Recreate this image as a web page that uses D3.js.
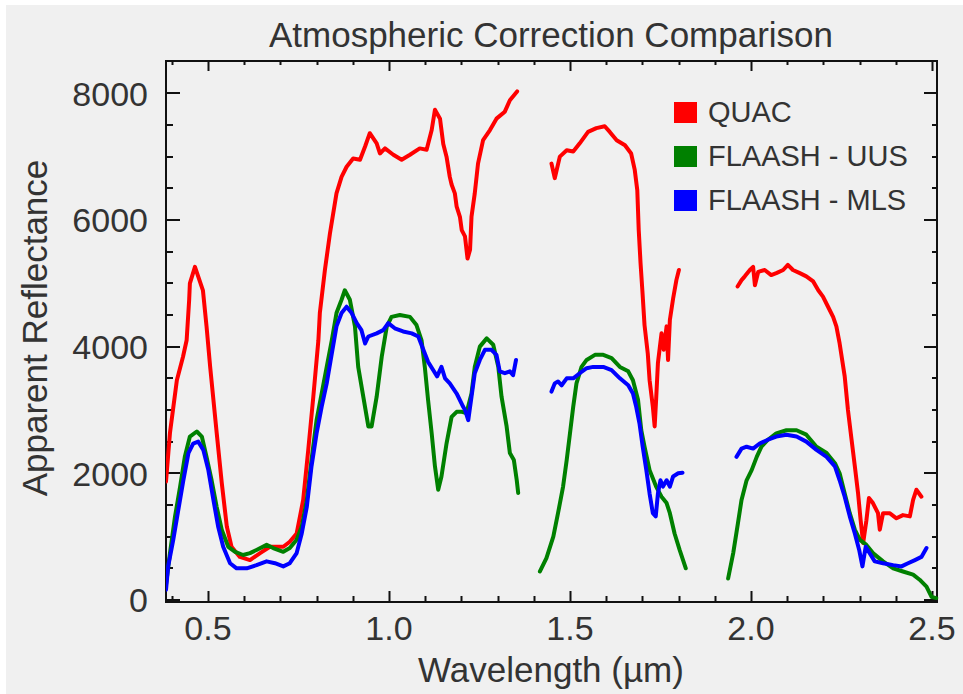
<!DOCTYPE html>
<html>
<head>
<meta charset="utf-8">
<script src="https://cdn.jsdelivr.net/npm/d3@7"></script>
<style>
  html, body { margin: 0; padding: 0; background: #ffffff; }
  svg { display: block; }
  text { font-family: "Liberation Sans", Arial, sans-serif; fill: #333333; }
</style>
</head>
<body>
<div id="chart"></div>
<script>
// 数据：波长 (µm) 与表观反射率，每条曲线按水汽吸收带分段
const quacSeg1 = [[0.384,1870],[0.395,2640],[0.414,3470],[0.431,3840],[0.441,4100],[0.448,4740],[0.450,5000],[0.464,5260],[0.486,4890],[0.496,4320],[0.506,3680],[0.524,2640],[0.538,1850],[0.552,1160],[0.565,840],[0.588,680],[0.616,630],[0.644,740],[0.671,840],[0.708,840],[0.726,920],[0.745,1050],[0.763,1580],[0.777,2370],[0.791,3210],[0.805,4100],[0.809,4530],[0.823,5210],[0.837,5790],[0.855,6420],[0.869,6680],[0.883,6840],[0.901,6970],[0.920,6950],[0.934,7160],[0.947,7370],[0.966,7210],[0.975,7050],[0.989,7130],[1.012,7030],[1.035,6950],[1.058,7030],[1.085,7130],[1.104,7110],[1.118,7420],[1.127,7740],[1.141,7600],[1.150,7200],[1.159,7000],[1.168,6680],[1.173,6560],[1.182,6420],[1.187,6210],[1.196,6050],[1.201,5840],[1.210,5740],[1.217,5390],[1.224,5530],[1.228,6050],[1.237,6420],[1.246,6890],[1.260,7260],[1.279,7420],[1.297,7600],[1.320,7710],[1.334,7890],[1.354,8030]];
const quacSeg2 = [[1.449,6890],[1.458,6660],[1.472,7000],[1.491,7100],[1.509,7080],[1.527,7210],[1.550,7390],[1.573,7450],[1.596,7480],[1.610,7390],[1.629,7260],[1.652,7180],[1.669,7050],[1.679,6790],[1.686,6470],[1.690,5840],[1.695,5320],[1.700,4890],[1.706,4340],[1.715,3890],[1.720,3470],[1.729,3050],[1.734,2740],[1.738,3160],[1.743,3740],[1.753,4210],[1.759,3950],[1.767,4320],[1.771,3790],[1.776,4420],[1.785,4760],[1.794,5050],[1.801,5210]];
const quacSeg3 = [[1.963,4950],[1.974,5050],[1.983,5110],[1.997,5210],[2.006,5260],[2.011,4970],[2.020,5180],[2.038,5210],[2.056,5130],[2.070,5160],[2.089,5210],[2.102,5290],[2.116,5210],[2.135,5160],[2.153,5110],[2.172,5030],[2.186,4890],[2.199,4790],[2.213,4630],[2.227,4470],[2.236,4320],[2.245,4050],[2.259,3530],[2.268,3000],[2.278,2530],[2.287,2110],[2.296,1680],[2.303,1260],[2.310,900],[2.319,1260],[2.326,1610],[2.337,1530],[2.351,1370],[2.356,1110],[2.365,1370],[2.383,1370],[2.402,1290],[2.420,1340],[2.439,1320],[2.448,1580],[2.457,1740],[2.471,1630]];

const uusSeg1 = [[0.384,240],[0.395,740],[0.409,1320],[0.423,1790],[0.436,2260],[0.450,2580],[0.469,2660],[0.483,2580],[0.496,2260],[0.510,1890],[0.524,1470],[0.538,1110],[0.556,840],[0.575,760],[0.597,710],[0.616,740],[0.634,790],[0.662,870],[0.680,820],[0.708,760],[0.726,820],[0.745,950],[0.759,1160],[0.773,1580],[0.786,2210],[0.800,2840],[0.814,3260],[0.828,3680],[0.842,4100],[0.855,4530],[0.869,4740],[0.878,4890],[0.892,4740],[0.906,4320],[0.915,3680],[0.929,3210],[0.943,2740],[0.952,2740],[0.966,3210],[0.980,3840],[0.994,4320],[1.007,4470],[1.030,4500],[1.058,4470],[1.076,4340],[1.090,4100],[1.099,3680],[1.108,3160],[1.118,2630],[1.127,2110],[1.136,1740],[1.145,1950],[1.159,2470],[1.173,2890],[1.187,2970],[1.201,2970],[1.214,2950],[1.228,3260],[1.237,3680],[1.251,4000],[1.270,4130],[1.288,4030],[1.302,3680],[1.311,3210],[1.325,2740],[1.334,2320],[1.345,2210],[1.353,1890],[1.357,1690]];
const uusSeg2 = [[1.417,450],[1.435,660],[1.454,1000],[1.467,1370],[1.481,1790],[1.491,2210],[1.500,2630],[1.509,3050],[1.518,3420],[1.532,3680],[1.546,3790],[1.569,3870],[1.592,3870],[1.615,3820],[1.638,3680],[1.661,3610],[1.674,3470],[1.688,3160],[1.697,2680],[1.706,2420],[1.720,2050],[1.738,1790],[1.753,1630],[1.767,1530],[1.776,1370],[1.789,1050],[1.803,790],[1.820,500]];
const uusSeg3 = [[1.937,340],[1.951,740],[1.964,1210],[1.974,1580],[1.988,1890],[2.002,2050],[2.016,2260],[2.029,2420],[2.047,2530],[2.070,2630],[2.098,2680],[2.126,2680],[2.153,2610],[2.181,2420],[2.209,2320],[2.232,2160],[2.245,2000],[2.259,1680],[2.273,1370],[2.287,1110],[2.301,950],[2.319,870],[2.337,740],[2.365,610],[2.393,500],[2.420,450],[2.448,400],[2.466,320],[2.485,210],[2.499,50],[2.512,30]];

const mlsSeg1 = [[0.384,160],[0.390,530],[0.404,950],[0.418,1420],[0.432,1890],[0.446,2320],[0.459,2470],[0.473,2500],[0.487,2370],[0.501,2050],[0.515,1580],[0.528,1160],[0.542,840],[0.561,580],[0.579,500],[0.607,500],[0.634,550],[0.662,610],[0.685,580],[0.708,530],[0.726,580],[0.745,740],[0.759,1050],[0.773,1470],[0.786,2110],[0.800,2630],[0.814,3050],[0.828,3420],[0.842,3890],[0.855,4320],[0.869,4530],[0.883,4630],[0.897,4530],[0.911,4370],[0.924,4260],[0.934,4050],[0.943,4160],[0.966,4210],[0.984,4260],[0.998,4370],[1.016,4290],[1.039,4240],[1.063,4210],[1.081,4160],[1.095,3950],[1.108,3760],[1.122,3630],[1.133,3530],[1.145,3680],[1.155,3500],[1.168,3420],[1.187,3260],[1.205,3050],[1.210,3000],[1.219,2840],[1.228,3210],[1.237,3580],[1.251,3790],[1.265,3950],[1.283,3950],[1.297,3870],[1.306,3610],[1.320,3580],[1.334,3610],[1.343,3550],[1.351,3790]];
const mlsSeg2 = [[1.449,3290],[1.458,3420],[1.467,3450],[1.477,3390],[1.491,3500],[1.509,3500],[1.527,3580],[1.546,3660],[1.564,3680],[1.592,3680],[1.615,3630],[1.638,3500],[1.661,3390],[1.674,3260],[1.683,3050],[1.692,2790],[1.701,2420],[1.711,2050],[1.720,1680],[1.729,1370],[1.737,1320],[1.743,1680],[1.750,1890],[1.757,1790],[1.767,1890],[1.776,1790],[1.785,1950],[1.799,2000],[1.811,2010]];
const mlsSeg3 = [[1.960,2260],[1.974,2390],[1.988,2420],[2.006,2390],[2.024,2470],[2.047,2530],[2.070,2580],[2.098,2610],[2.126,2580],[2.153,2500],[2.181,2370],[2.209,2260],[2.232,2110],[2.245,1890],[2.259,1630],[2.273,1320],[2.287,1050],[2.299,790],[2.308,530],[2.317,840],[2.328,740],[2.342,610],[2.365,580],[2.393,550],[2.416,530],[2.434,580],[2.453,630],[2.471,680],[2.485,820]];

const seriesNames = ["QUAC", "FLAASH - UUS", "FLAASH - MLS"];
const seriesColors = ["#ff0000", "#008000", "#0000ff"];
const seriesSegments = [
    [quacSeg1, quacSeg2, quacSeg3],
    [uusSeg1, uusSeg2, uusSeg3],
    [mlsSeg1, mlsSeg2, mlsSeg3]
];

const xMajorTicks = [0.5, 1.0, 1.5, 2.0, 2.5];
const xMinorTicks = [0.4, 0.6, 0.7, 0.8, 0.9, 1.1, 1.2, 1.3, 1.4, 1.6, 1.7, 1.8, 1.9, 2.1, 2.2, 2.3, 2.4];
const xTickLabels = ["0.5", "1.0", "1.5", "2.0", "2.5"];
const yMajorTicks = [0, 2000, 4000, 6000, 8000];
const yMinorTicks = [500, 1000, 1500, 2500, 3000, 3500, 4500, 5000, 5500, 6500, 7000, 7500];
const yTickLabels = ["0", "2000", "4000", "6000", "8000"];

const titleText = "Atmospheric Correction Comparison";
const xLabelText = "Wavelength (µm)";
const yLabelText = "Apparent Reflectance";

// 画布
const width = 963;
const height = 694;
const plot = { left: 166, top: 61, right: 937, bottom: 602 };

const svg = d3.select("#chart")
    .append("svg")
    .attr("width", width)
    .attr("height", height);

// 灰色背景
svg.append("rect")
    .attr("x", 6).attr("y", 5)
    .attr("width", width - 6).attr("height", height - 5)
    .attr("fill", "#f0f0f0");

// 比例尺
const x = d3.scaleLinear().domain([0.384, 2.514]).range([plot.left, plot.right]);
const y = d3.scaleLinear().domain([-32, 8510]).range([plot.bottom, plot.top]);

// 刻度线（朝内）
const ticks = svg.append("g")
    .attr("stroke", "#111")
    .attr("stroke-width", 2);

function xTicks(values, yBase, len) {
    ticks.append("g").selectAll("line")
        .data(values)
        .join("line")
        .attr("x1", d => Math.round(x(d)) + 0.5)
        .attr("x2", d => Math.round(x(d)) + 0.5)
        .attr("y1", yBase)
        .attr("y2", yBase + len);
}

function yTicks(values, xBase, len) {
    ticks.append("g").selectAll("line")
        .data(values)
        .join("line")
        .attr("y1", d => Math.round(y(d)))
        .attr("y2", d => Math.round(y(d)))
        .attr("x1", xBase)
        .attr("x2", xBase + len);
}

xTicks(xMajorTicks, plot.bottom, -11);
xTicks(xMinorTicks, plot.bottom, -6);
xTicks(xMajorTicks, plot.top, 10);
xTicks(xMinorTicks, plot.top, 4);
yTicks(yMajorTicks, plot.left, 14);
yTicks(yMinorTicks, plot.left, 7);
yTicks(yMajorTicks, plot.right, -13);
yTicks(yMinorTicks, plot.right, -5);

// 刻度标签
svg.append("g").selectAll("text")
    .data(xMajorTicks)
    .join("text")
    .attr("x", d => x(d))
    .attr("y", 640)
    .attr("text-anchor", "middle")
    .attr("font-size", 34)
    .text((d, i) => xTickLabels[i]);

svg.append("g").selectAll("text")
    .data(yMajorTicks)
    .join("text")
    .attr("x", 148)
    .attr("y", d => y(d) + 12.5)
    .attr("text-anchor", "end")
    .attr("font-size", 34)
    .text((d, i) => yTickLabels[i]);

// 边框
svg.append("rect")
    .attr("x", plot.left).attr("y", plot.top)
    .attr("width", plot.right - plot.left).attr("height", plot.bottom - plot.top)
    .attr("fill", "none")
    .attr("stroke", "#111")
    .attr("stroke-width", 2);

// 裁剪区域
svg.append("defs").append("clipPath")
    .attr("id", "plot-clip")
    .append("rect")
    .attr("x", plot.left).attr("y", plot.top - 2)
    .attr("width", plot.right - plot.left + 2).attr("height", plot.bottom - plot.top + 2);

// 曲线
const line = d3.line()
    .x(d => x(d[0]))
    .y(d => y(d[1]));

const lines = svg.append("g").attr("clip-path", "url(#plot-clip)");
seriesSegments.forEach((segments, i) => {
    segments.forEach(seg => {
        lines.append("path")
            .datum(seg)
            .attr("d", line)
            .attr("fill", "none")
            .attr("stroke", seriesColors[i])
            .attr("stroke-width", 4)
            .attr("stroke-linejoin", "round")
            .attr("stroke-linecap", "round");
    });
});

// 图例
const legend = svg.append("g").attr("transform", "translate(674,102)");
seriesNames.forEach((name, i) => {
    const row = legend.append("g").attr("transform", `translate(0,${i * 44})`);
    row.append("rect")
        .attr("width", 23).attr("height", 21)
        .attr("fill", seriesColors[i]);
    row.append("text")
        .attr("x", 34)
        .attr("y", 20)
        .attr("font-size", 29)
        .text(name);
});

// 标题与轴标题
svg.append("text")
    .attr("x", 551)
    .attr("y", 47)
    .attr("text-anchor", "middle")
    .attr("font-size", 35)
    .attr("fill", "#3c3c3c")
    .text(titleText);

svg.append("text")
    .attr("x", 551)
    .attr("y", 682)
    .attr("text-anchor", "middle")
    .attr("font-size", 35)
    .text(xLabelText);

svg.append("text")
    .attr("transform", "translate(47,328) rotate(-90)")
    .attr("text-anchor", "middle")
    .attr("font-size", 35)
    .text(yLabelText);
</script>
</body>
</html>
